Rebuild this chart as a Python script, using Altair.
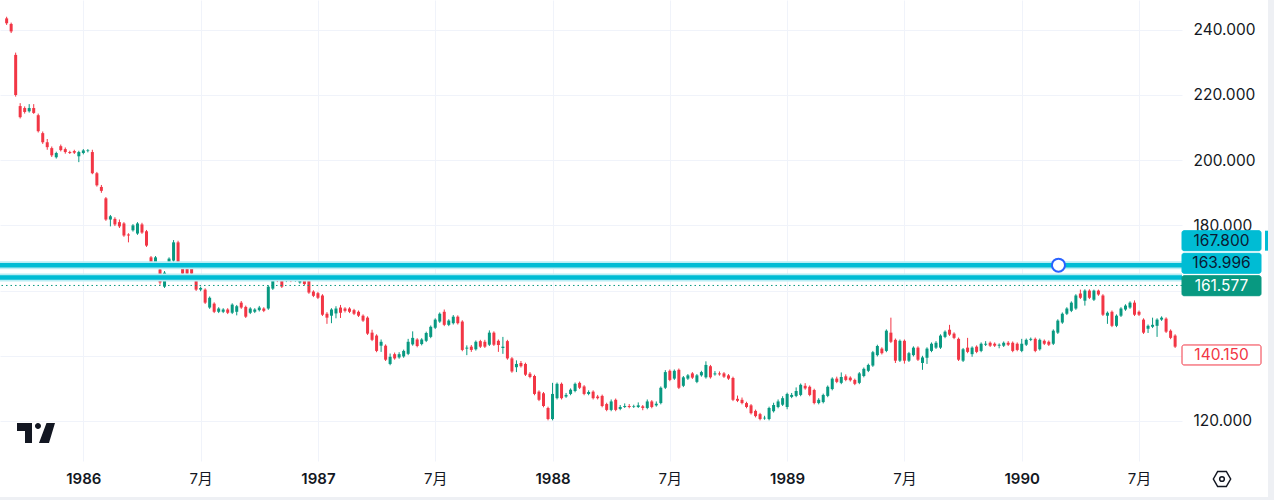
import altair as alt
import pandas as pd

# ---------------- data (weekly USD/JPY candles) ----------------
first_bar = "1985-09-09"

opens = [
    243.5, 241.8, 232.3, 216.6, 216.0, 215.0, 216.0, 213.8, 208.3, 205.5,
    203.7, 200.9, 204.3, 203.4, 202.5, 202.8, 201.2, 202.2, 202.8, 202.5,
    196.0, 191.8, 188.3, 181.8, 182.0, 181.0, 180.6, 177.2, 178.5, 177.5,
    180.3, 178.2, 170.2, 168.6, 166.5, 161.2, 168.6, 169.2, 174.8, 167.1,
    166.8, 167.0, 164.0, 160.3, 160.3, 154.8, 156.0, 153.5, 153.5, 154.2,
    153.2, 153.5, 156.3, 155.0, 153.2, 153.5, 154.0, 154.5, 154.5, 160.6,
    164.0, 163.0, 163.0, 164.3, 163.0, 162.5, 164.0, 163.0, 159.7, 159.2,
    158.5, 152.9, 152.3, 153.0, 154.8, 154.5, 154.5, 154.0, 153.5, 152.3,
    151.7, 147.1, 146.2, 143.1, 143.1, 137.5, 140.5, 139.5, 139.8, 140.6,
    143.5, 145.0, 143.6, 144.6, 145.8, 148.6, 150.5, 153.5, 149.5, 150.0,
    152.0, 150.5, 142.2, 142.8, 142.0, 144.5, 144.3, 143.4, 147.1, 144.6,
    142.4, 144.5, 139.2, 136.5, 137.8, 137.5, 134.5, 133.8, 129.0, 128.5,
    124.0, 120.6, 127.0, 131.4, 127.5, 128.3, 129.2, 131.7, 130.6, 128.3,
    129.0, 127.5, 127.7, 125.2, 123.4, 126.5, 123.7, 124.3, 124.6, 124.3,
    124.3, 124.5, 124.0, 126.0, 124.8, 125.5, 130.2, 135.4, 133.0, 135.7,
    130.8, 133.0, 134.6, 132.0, 134.0, 133.4, 136.8, 134.3, 134.6, 134.6,
    134.0, 133.2, 126.8, 126.5, 125.5, 124.8, 123.1, 122.1, 120.8, 120.6,
    123.0, 124.3, 125.0, 124.3, 127.4, 127.7, 128.0, 130.8, 130.5, 129.5,
    125.5, 125.8, 127.7, 129.8, 133.0, 131.7, 133.7, 133.3, 132.6, 131.7,
    133.8, 135.4, 137.0, 140.2, 142.2, 141.5, 147.1, 144.9, 138.5, 144.6,
    138.5, 140.2, 142.5, 137.8, 139.4, 141.5, 142.5, 142.5, 145.8, 148.0,
    146.8, 145.2, 138.5, 142.5, 140.5, 142.8, 141.5, 143.4, 144.0, 143.7,
    143.1, 143.1, 144.0, 144.0, 143.7, 141.5, 143.4, 144.9, 145.2, 142.0,
    144.6, 144.3, 143.7, 147.1, 150.2, 152.9, 153.8, 154.5, 159.1, 156.9,
    160.0, 157.2, 160.0, 158.5, 152.3, 153.5, 149.2, 152.3, 154.2, 154.8,
    156.3, 153.5, 151.1, 148.3, 148.9, 149.2, 151.1, 151.4, 147.7, 146.2,
]

highs = [
    244.0, 242.2, 233.0, 217.5, 216.5, 217.2, 217.2, 214.3, 208.8, 206.5,
    204.2, 202.6, 204.8, 203.9, 202.9, 203.2, 202.9, 203.4, 203.4, 203.2,
    196.4, 192.4, 188.7, 183.2, 182.5, 181.8, 181.0, 177.6, 180.4, 181.0,
    180.8, 178.6, 170.6, 170.6, 167.0, 166.0, 170.2, 175.5, 175.3, 167.6,
    167.3, 167.4, 164.5, 161.2, 160.7, 158.2, 156.4, 154.9, 154.6, 154.6,
    156.1, 155.6, 156.8, 155.4, 154.9, 154.6, 155.3, 154.9, 161.6, 163.8,
    164.6, 163.4, 164.4, 164.7, 163.6, 164.4, 164.4, 163.5, 160.1, 159.6,
    158.9, 153.4, 154.6, 155.2, 155.6, 154.9, 154.9, 154.4, 153.9, 152.7,
    152.1, 148.0, 146.6, 145.0, 143.5, 140.7, 141.0, 141.1, 141.9, 145.2,
    147.5, 145.4, 145.4, 147.4, 149.3, 151.5, 153.3, 154.2, 151.2, 152.5,
    152.4, 150.9, 143.2, 143.3, 144.7, 144.9, 144.9, 147.8, 147.5, 145.0,
    145.8, 144.9, 139.6, 138.6, 138.4, 137.9, 135.0, 134.2, 129.4, 128.9,
    124.4, 131.7, 131.8, 131.8, 128.6, 130.0, 131.8, 132.1, 131.0, 129.4,
    129.4, 128.0, 128.1, 125.6, 126.6, 126.9, 124.9, 125.4, 125.2, 125.0,
    125.7, 124.9, 126.6, 126.4, 126.0, 130.6, 135.6, 135.8, 135.8, 136.1,
    133.8, 134.4, 135.0, 134.4, 135.4, 138.3, 137.2, 135.3, 135.2, 135.0,
    134.4, 133.6, 127.8, 127.2, 125.9, 125.2, 123.5, 122.5, 121.6, 124.4,
    125.6, 126.6, 127.6, 128.7, 128.6, 130.3, 131.5, 131.6, 130.9, 129.9,
    127.0, 128.4, 130.9, 133.4, 133.6, 134.9, 134.3, 133.7, 133.0, 135.0,
    136.4, 137.6, 141.5, 143.4, 142.6, 148.1, 151.7, 145.3, 145.0, 145.0,
    141.2, 142.9, 142.9, 140.0, 142.6, 144.1, 144.5, 146.6, 147.8, 149.5,
    147.2, 145.6, 142.4, 145.5, 142.9, 143.2, 144.1, 144.5, 144.4, 144.1,
    143.8, 144.4, 144.5, 144.4, 144.1, 145.2, 145.3, 145.6, 145.6, 145.3,
    145.0, 144.7, 148.1, 151.2, 153.3, 154.9, 156.7, 158.9, 160.3, 160.4,
    160.4, 160.3, 160.3, 158.9, 153.6, 153.9, 152.7, 154.9, 155.8, 156.7,
    157.0, 153.9, 151.5, 149.6, 151.7, 151.5, 152.1, 151.8, 148.1, 146.6,
]

lows = [
    241.5, 239.0, 219.5, 212.8, 214.3, 214.6, 214.2, 208.5, 205.0, 203.2,
    201.0, 200.5, 202.7, 202.0, 201.9, 201.9, 199.4, 201.8, 202.4, 195.7,
    191.9, 190.0, 181.4, 179.7, 179.8, 179.2, 176.5, 174.8, 178.1, 177.1,
    177.4, 173.4, 168.2, 168.2, 161.8, 160.8, 168.2, 168.8, 168.2, 164.8,
    164.8, 164.8, 159.9, 159.8, 155.9, 154.4, 153.1, 153.1, 153.1, 152.8,
    152.8, 152.4, 154.4, 151.6, 152.8, 153.1, 153.6, 153.4, 154.1, 160.2,
    162.6, 160.8, 162.6, 162.6, 162.7, 162.1, 161.6, 159.0, 158.0, 157.4,
    152.2, 149.8, 150.0, 151.5, 151.6, 153.3, 153.1, 152.5, 151.9, 150.4,
    146.4, 144.5, 141.1, 141.2, 138.4, 137.1, 138.8, 139.1, 139.4, 140.2,
    143.1, 142.6, 143.2, 144.2, 145.4, 148.2, 150.1, 149.1, 149.1, 149.6,
    149.6, 141.4, 140.2, 141.2, 141.6, 142.4, 142.4, 143.0, 143.0, 141.2,
    140.6, 138.8, 134.8, 135.0, 136.4, 133.8, 133.1, 127.9, 126.1, 124.2,
    120.2, 120.2, 126.6, 126.6, 127.1, 127.9, 128.8, 129.8, 127.9, 127.9,
    126.6, 126.6, 124.2, 123.0, 123.0, 123.0, 123.3, 124.0, 123.9, 124.0,
    124.0, 123.3, 123.6, 123.9, 124.4, 125.1, 129.8, 132.2, 132.6, 129.8,
    130.4, 132.6, 132.9, 131.6, 133.6, 133.0, 133.0, 133.9, 133.9, 133.2,
    132.6, 126.1, 125.8, 125.1, 123.9, 122.0, 121.1, 120.2, 120.4, 120.2,
    122.6, 123.9, 124.6, 123.6, 127.0, 127.3, 127.6, 129.6, 127.6, 125.1,
    125.1, 125.4, 127.3, 129.4, 131.6, 131.3, 132.2, 132.1, 131.0, 131.3,
    133.4, 135.0, 136.6, 139.8, 140.4, 141.1, 143.9, 137.8, 138.1, 137.6,
    138.1, 139.8, 138.4, 135.7, 137.5, 141.1, 142.1, 142.1, 145.4, 146.1,
    145.1, 138.4, 138.1, 140.8, 139.7, 140.8, 141.1, 143.0, 142.7, 142.7,
    142.3, 142.7, 143.0, 141.1, 141.4, 141.1, 143.0, 144.5, 141.1, 141.6,
    143.3, 143.0, 143.3, 146.7, 149.8, 152.5, 153.4, 154.1, 157.4, 155.4,
    157.4, 156.8, 158.4, 152.2, 149.8, 148.8, 148.8, 151.9, 153.8, 154.4,
    152.2, 152.2, 146.7, 147.0, 148.5, 145.8, 150.7, 147.0, 145.1, 142.4,
]

closes = [
    242.0, 239.5, 220.0, 213.2, 214.8, 216.0, 214.5, 208.9, 205.5, 204.0,
    201.5, 202.2, 203.1, 202.5, 202.2, 202.3, 202.5, 203.0, 203.0, 196.0,
    192.3, 190.6, 181.8, 182.8, 180.3, 179.7, 176.9, 176.9, 180.0, 180.6,
    177.8, 173.8, 168.6, 170.2, 162.5, 165.5, 169.8, 174.8, 168.6, 165.2,
    165.2, 165.2, 160.3, 160.8, 156.3, 157.8, 153.5, 154.5, 154.2, 153.2,
    155.7, 155.2, 154.8, 152.0, 154.5, 154.2, 154.8, 153.8, 161.2, 163.4,
    163.0, 161.2, 164.0, 163.0, 163.2, 164.0, 162.0, 159.4, 158.4, 157.8,
    152.6, 151.7, 154.2, 154.5, 153.2, 153.8, 153.5, 152.9, 152.3, 150.8,
    146.8, 144.9, 141.5, 144.3, 138.8, 139.7, 139.2, 140.5, 141.5, 144.3,
    145.5, 143.0, 145.0, 147.0, 148.9, 151.1, 152.9, 149.5, 150.8, 152.0,
    150.0, 141.8, 142.5, 141.8, 144.3, 142.8, 142.8, 147.1, 143.4, 143.3,
    142.8, 139.2, 135.2, 137.5, 136.8, 134.2, 133.5, 128.3, 126.5, 124.6,
    120.6, 128.3, 131.4, 127.0, 128.0, 129.6, 131.4, 130.2, 128.3, 128.9,
    127.0, 127.0, 124.6, 123.4, 126.0, 123.4, 124.3, 124.6, 124.3, 124.5,
    124.8, 124.0, 126.0, 124.3, 125.3, 130.2, 135.0, 132.6, 135.4, 130.2,
    133.4, 134.0, 133.3, 134.0, 135.0, 137.2, 133.4, 134.6, 134.3, 133.6,
    133.0, 126.5, 126.2, 125.5, 124.3, 122.4, 121.5, 120.6, 121.0, 124.0,
    124.9, 126.0, 127.0, 128.3, 128.0, 129.2, 131.1, 130.0, 128.0, 125.5,
    126.5, 128.0, 130.5, 133.0, 132.0, 133.5, 132.6, 132.5, 131.4, 134.6,
    136.0, 137.2, 141.1, 143.0, 140.8, 147.7, 144.3, 138.5, 144.6, 138.5,
    140.8, 142.5, 138.8, 139.5, 142.2, 143.7, 144.0, 146.2, 147.4, 146.5,
    145.5, 138.8, 142.0, 141.2, 142.5, 141.2, 143.7, 143.7, 143.1, 143.1,
    143.4, 144.0, 143.4, 141.5, 141.8, 143.7, 144.9, 145.2, 141.5, 144.9,
    143.7, 143.4, 147.7, 150.8, 152.9, 154.5, 156.3, 158.5, 157.8, 160.0,
    157.8, 160.0, 158.8, 152.6, 153.2, 149.2, 152.3, 154.5, 155.4, 156.3,
    152.6, 152.6, 147.1, 149.2, 149.5, 151.1, 151.7, 147.4, 145.5, 142.8,
]

# horizontal drawings
level_prices = [167.8, 163.996]
dotted_price = [161.577]
handle_date = ["1990-02-27T00:00:00"]
handle_price = [167.8]

# price-scale labels (text, centre price of the box, colours)
tag_texts = ["167.800", "163.996", "161.577", "140.150"]
tag_centres = [175.31, 168.37, 161.5, 140.25]
tag_fills = ["#00bcd4", "#00bcd4", "#089981", "#ffffff"]
tag_strokes = ["#00bcd4", "#00bcd4", "#089981", "#f23645"]
tag_text_colors = ["#0b1a33", "#0b1a33", "#ffffff", "#f23645"]

y_ticks = [120, 140, 160, 180, 200, 220, 240]
x_ticks = [(1986, 1, 6), (1986, 7, 7), (1987, 1, 5), (1987, 7, 6), (1988, 1, 4),
           (1988, 7, 4), (1989, 1, 2), (1989, 7, 3), (1990, 1, 1), (1990, 7, 2)]

GREEN = "#089981"
RED = "#f23645"
GRID = "#f0f3fa"
TEXT = "#131722"
FONT = "Inter"

# ---------------- tables ----------------
dates = pd.date_range(first_bar, periods=len(closes), freq="7D").strftime("%Y-%m-%dT00:00:00")
candles = pd.DataFrame({"date": dates, "o": opens, "h": highs, "l": lows, "c": closes})
levels = pd.DataFrame({"p": level_prices})
dotted = pd.DataFrame({"p": dotted_price})
handle = pd.DataFrame({"date": handle_date, "p": handle_price})
tags = pd.DataFrame({"t": tag_texts, "p": tag_centres, "fill": tag_fills,
                     "stroke": tag_strokes, "tc": tag_text_colors})

x_scale = alt.Scale(domain=[alt.DateTime(year=1985, month=9, date=6, hours=11),
                            alt.DateTime(year=1990, month=8, date=29, hours=22)])
y_scale = alt.Scale(domain=[107.73, 249.14], nice=False, zero=False)

x_axis = alt.Axis(
    values=[alt.DateTime(year=a, month=b, date=c) for a, b, c in x_ticks],
    labelExpr="month(datum.value) == 0 ? timeFormat(datum.value, '%Y') : '7月'",
    labelFontWeight={"condition": {"test": "month(datum.value) == 0", "value": 600}, "value": 400},
    title=None, grid=True, gridColor=GRID, gridWidth=1, tickSize=0, domain=False,
    labelPadding=10, labelFontSize=15, labelColor=TEXT, labelFont=f"{FONT}, Noto Sans CJK SC",
    labelFlush=False, labelOverlap=False,
)
y_axis = alt.Axis(
    orient="right", values=y_ticks,
    labelExpr="(datum.value == 140 || datum.value == 160) ? '' : format(datum.value, '.3f')",
    title=None, grid=True, gridColor=GRID, gridWidth=1, tickSize=0, domain=False,
    labelPadding=11, labelFontSize=15.5, labelColor=TEXT, labelFont=FONT, labelAlign="left",
)

color = alt.condition("datum.c >= datum.o", alt.value(GREEN), alt.value(RED))

base = alt.Chart(candles)
wicks = base.mark_rule(strokeWidth=1).encode(
    x=alt.X("date:T", scale=x_scale, axis=x_axis),
    y=alt.Y("l:Q", scale=y_scale, axis=y_axis),
    y2="h:Q",
    color=color,
)
bodies = base.mark_bar(size=3).encode(
    x="date:T", y="o:Q", y2="c:Q", color=color,
)

halo = alt.Chart(levels).mark_rule(strokeWidth=8, color="#b9edf4").encode(y="p:Q")
core = alt.Chart(levels).mark_rule(strokeWidth=4.5, color="#00bcd4").encode(y="p:Q")
dots = alt.Chart(dotted).mark_rule(strokeWidth=1, strokeDash=[1.5, 3], color=GREEN).encode(y="p:Q")
handle_pt = alt.Chart(handle).mark_point(
    shape="circle", size=170, filled=True, fill="white", stroke="#2962ff", strokeWidth=2, opacity=1
).encode(x="date:T", y="p:Q")

tag_box = alt.Chart(tags).mark_rect(yOffset=-10, y2Offset=10, cornerRadius=2, strokeWidth=1).encode(
    x=alt.value(1182), x2=alt.value(1261), y="p:Q", y2="p:Q",
    fill=alt.Fill("fill:N", scale=None), stroke=alt.Stroke("stroke:N", scale=None),
)
tag_text = alt.Chart(tags).mark_text(fontSize=15.5, font=FONT, align="center", baseline="middle").encode(
    x=alt.value(1221.5), y="p:Q", text="t:N", color=alt.Color("tc:N", scale=None),
)
side_mark = alt.Chart(tags.iloc[[0]]).mark_rect(yOffset=-10, y2Offset=10, color="#00bcd4").encode(
    x=alt.value(1265), x2=alt.value(1268), y="p:Q", y2="p:Q",
)

# TradingView logo and settings icon
logo_path = ("M-1,-0.526 L-0.21,-0.526 L-0.21,0.526 L-0.579,0.526 L-0.579,-0.105 L-1,-0.105 Z "
             "M-0.053,-0.368 A0.158,0.158 0 1,0 0.263,-0.368 A0.158,0.158 0 1,0 -0.053,-0.368 Z "
             "M0.158,0.526 L0.684,0.526 L1,-0.526 L0.553,-0.526 Z")
logo = alt.Chart(pd.DataFrame({"k": [0]})).mark_point(
    shape=logo_path, size=1444, filled=True, color=TEXT, opacity=1
).encode(x=alt.value(36), y=alt.value(433))
hex_path = "M-1,0 L-0.5,-0.87 L0.5,-0.87 L1,0 L0.5,0.87 L-0.5,0.87 Z"
gear = alt.Chart(pd.DataFrame({"k": [0]})).mark_point(
    shape=hex_path, size=300, filled=False, color=TEXT, strokeWidth=1.5, opacity=1
).encode(x=alt.value(1222), y=alt.value(479))
gear_dot = alt.Chart(pd.DataFrame({"k": [0]})).mark_point(
    shape="circle", size=22, filled=False, color=TEXT, strokeWidth=1.5, opacity=1
).encode(x=alt.value(1222), y=alt.value(479))
right_strip = alt.Chart(pd.DataFrame({"k": [0]})).mark_rect(color="#eef0f4").encode(
    x=alt.value(1268), x2=alt.value(1274), y=alt.value(0), y2=alt.value(500))
bottom_strip = alt.Chart(pd.DataFrame({"k": [0]})).mark_rect(color="#eef0f4").encode(
    x=alt.value(0), x2=alt.value(1274), y=alt.value(497), y2=alt.value(500))

chart = alt.layer(
    wicks, bodies, halo, core, dots, handle_pt, tag_box, tag_text, side_mark,
    logo, gear, gear_dot, right_strip, bottom_strip,
).properties(
    width=1182, height=461,
    padding={"left": 0, "top": 0, "right": 92, "bottom": 39},
    autosize=alt.AutoSizeParams(type="none"),
    background="white",
).configure_view(stroke=None)

chart.save("out.html", embed_options={"renderer": "svg", "actions": False})
